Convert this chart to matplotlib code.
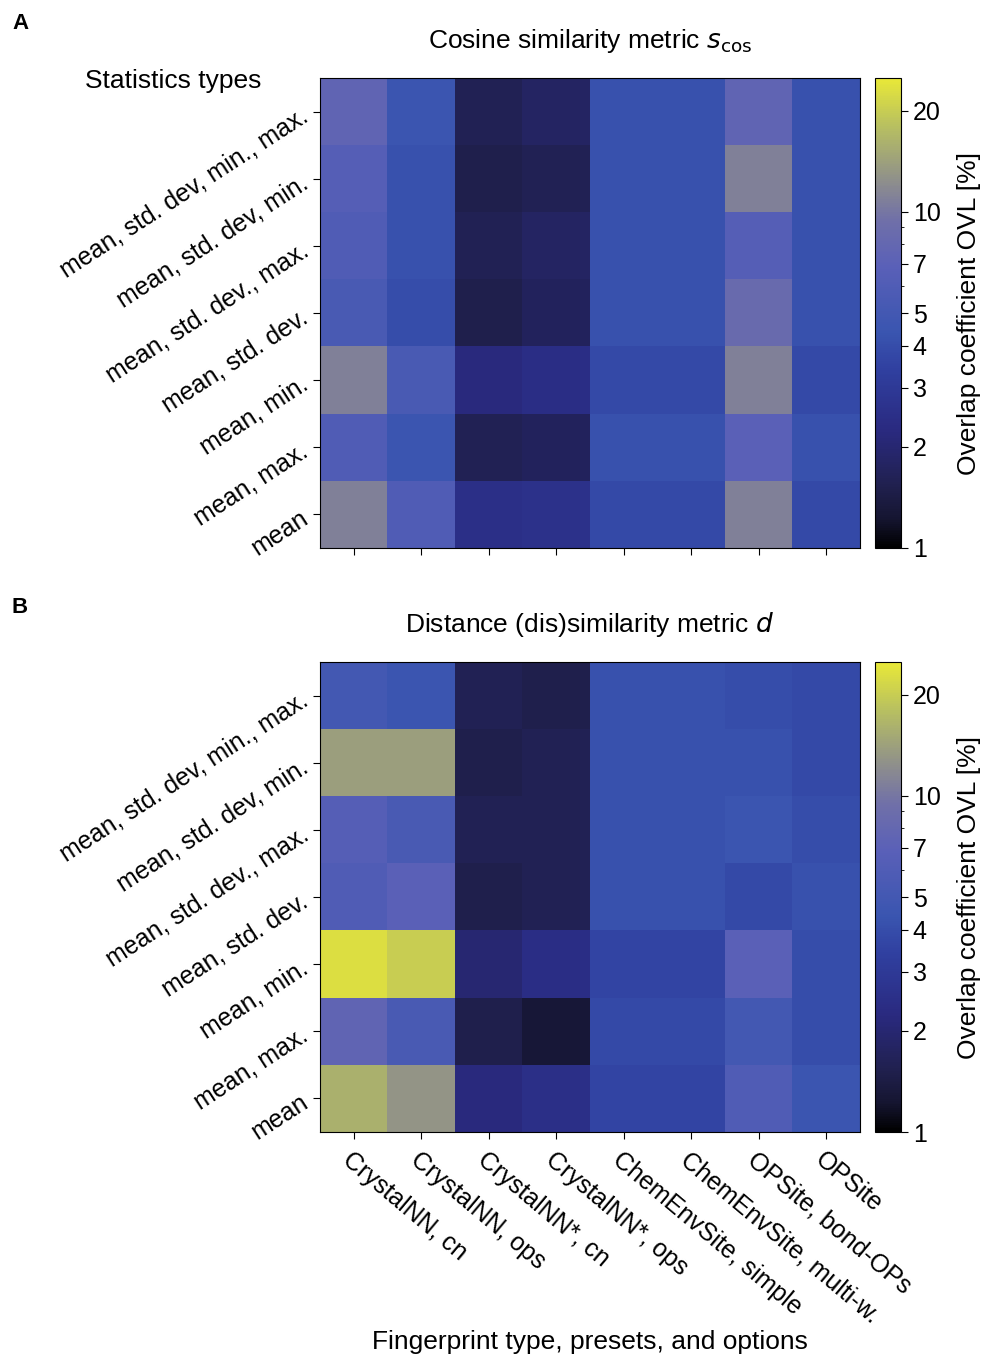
import matplotlib
matplotlib.use("Agg")
import matplotlib.pyplot as plt
import numpy as np
from matplotlib.colors import LinearSegmentedColormap, LogNorm

plt.rcParams["font.family"] = ["Liberation Sans", "DejaVu Sans"]

stat_types = ["mean, std. dev, min., max.", "mean, std. dev, min.", "mean, std. dev., max.",
              "mean, std. dev.", "mean, min.", "mean, max.", "mean"]
fingerprints = ["CrystalNN, cn", "CrystalNN, ops", "CrystalNN*, cn", "CrystalNN*, ops",
                "ChemEnvSite, simple", "ChemEnvSite, multi-w.", "OPSite, bond-OPs", "OPSite"]

ovl_cos = [
    [7.5, 4.5, 1.6, 1.8, 4.2, 4.2, 7.5, 4.2],
    [6.5, 4.2, 1.5, 1.6, 4.2, 4.2, 11, 4.2],
    [6.0, 4.2, 1.6, 1.8, 4.2, 4.2, 6.5, 4.2],
    [5.5, 4.0, 1.5, 1.7, 4.2, 4.2, 8.5, 4.2],
    [11, 5.5, 2.2, 2.4, 3.8, 3.8, 11, 3.8],
    [6.0, 4.5, 1.6, 1.7, 4.2, 4.2, 7.0, 4.2],
    [11, 6.0, 2.5, 2.6, 3.8, 3.8, 11, 3.8],
]
ovl_dist = [
    [5.0, 4.5, 1.6, 1.5, 4.2, 4.2, 4.0, 3.8],
    [14, 14, 1.5, 1.6, 4.2, 4.2, 4.2, 3.8],
    [6.5, 5.5, 1.6, 1.6, 4.2, 4.2, 4.5, 4.0],
    [6.0, 7.0, 1.5, 1.6, 4.2, 4.2, 3.8, 4.2],
    [23, 20, 2.0, 2.4, 3.6, 3.6, 7.0, 4.0],
    [7.5, 5.5, 1.5, 1.3, 3.8, 3.8, 5.0, 4.0],
    [16, 13, 2.2, 2.5, 3.6, 3.6, 6.0, 4.5],
]

cmap = LinearSegmentedColormap.from_list("ovl", [
    (0.0, "#000000"), (0.06, "#151530"), (0.13, "#20204e"), (0.25, "#2a2a80"),
    (0.38, "#3040a0"), (0.46, "#3a55b0"), (0.6, "#5a60b8"), (0.7, "#7070a8"),
    (0.77, "#8a8a90"), (0.9, "#b8c060"), (1.0, "#e8e838")])
norm = LogNorm(vmin=1, vmax=25)

fig = plt.figure(figsize=(9.95, 13.58), dpi=100)


def panel(bottom, data, title, letter, show_x):
    ax = fig.add_axes([0.3216, bottom, 0.5427, 0.346])
    cax = fig.add_axes([0.8794, bottom, 0.026, 0.346])
    im = ax.imshow(np.array(data), cmap=cmap, norm=norm, aspect="auto")
    ax.set_xticks(range(len(fingerprints)))
    ax.set_yticks(range(len(stat_types)))
    ax.set_yticklabels(stat_types, rotation=33, ha="right", rotation_mode="anchor", fontsize=18)
    if show_x:
        ax.set_xticklabels(fingerprints, rotation=-40, ha="left", rotation_mode="anchor", fontsize=18)
        ax.set_xlabel("Fingerprint type, presets, and options", fontsize=19, labelpad=2)
    else:
        ax.set_xticklabels([])
    ax.tick_params(length=5, pad=6)
    ax.set_title(title, fontsize=19, pad=22)
    cb = fig.colorbar(im, cax=cax)
    cb.set_ticks([1, 2, 3, 4, 5, 7, 10, 20])
    cb.set_ticklabels(["1", "2", "3", "4", "5", "7", "10", "20"])
    cb.ax.tick_params(labelsize=18, length=5)
    cb.set_label("Overlap coefficient OVL [%]", fontsize=19, labelpad=12)
    fig.text(0.012, bottom + 0.346 + 0.036, letter, fontsize=16, fontweight="bold")
    return ax


panel(0.5965, ovl_cos, r"Cosine similarity metric $s_{\mathrm{cos}}$", "A", False)
fig.text(0.085, 0.935, "Statistics types", fontsize=19)
panel(0.1664, ovl_dist, r"Distance (dis)similarity metric $d$", "B", True)

fig.savefig("out.png", dpi=100)
